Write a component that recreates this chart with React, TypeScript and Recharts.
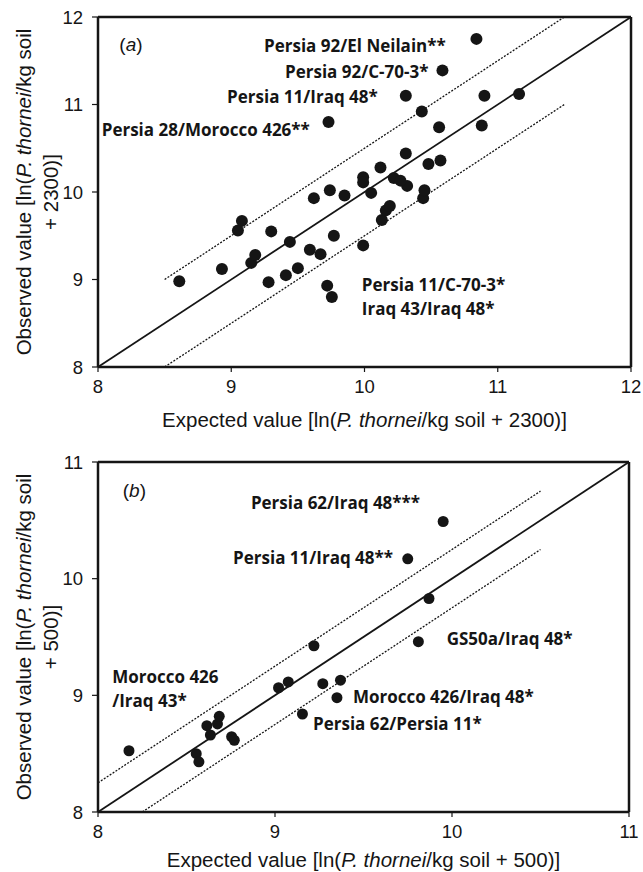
import React from 'react';
import { ScatterChart, Scatter, XAxis, YAxis, ReferenceLine, Label } from 'recharts';

// ---------- Panel (a) data ----------
const topPoints = [
  { x: 8.61, y: 8.98 }, { x: 8.93, y: 9.12 }, { x: 9.05, y: 9.56 }, { x: 9.08, y: 9.67 },
  { x: 9.15, y: 9.19 }, { x: 9.18, y: 9.28 }, { x: 9.3, y: 9.55 }, { x: 9.28, y: 8.97 },
  { x: 9.44, y: 9.43 }, { x: 9.41, y: 9.05 }, { x: 9.5, y: 9.13 }, { x: 9.59, y: 9.34 },
  { x: 9.62, y: 9.93 }, { x: 9.67, y: 9.29 }, { x: 9.74, y: 10.02 }, { x: 9.85, y: 9.96 },
  { x: 9.77, y: 9.5 }, { x: 9.72, y: 8.93 }, { x: 9.755, y: 8.8 }, { x: 9.99, y: 9.39 },
  { x: 10.13, y: 9.68 }, { x: 10.16, y: 9.79 }, { x: 10.19, y: 9.84 }, { x: 10.44, y: 9.93 },
  { x: 10.45, y: 10.02 }, { x: 10.32, y: 10.07 }, { x: 10.84, y: 11.75 }, { x: 10.585, y: 11.39 },
  { x: 10.31, y: 11.1 }, { x: 10.9, y: 11.1 }, { x: 11.16, y: 11.12 }, { x: 10.43, y: 10.92 },
  { x: 10.56, y: 10.74 }, { x: 10.88, y: 10.76 }, { x: 10.31, y: 10.44 }, { x: 10.12, y: 10.28 },
  { x: 10.48, y: 10.32 }, { x: 10.57, y: 10.36 }, { x: 9.99, y: 10.17 }, { x: 9.99, y: 10.11 },
  { x: 10.22, y: 10.16 }, { x: 10.27, y: 10.13 }, { x: 10.05, y: 9.99 }, { x: 9.73, y: 10.8 },
];
const topTicks = [8, 9, 10, 11, 12];
const topIdentity = [{ x: 8, y: 8 }, { x: 12, y: 12 }];
const topUpper = [{ x: 8.5, y: 9 }, { x: 11.5, y: 12 }];
const topLower = [{ x: 8.5, y: 8 }, { x: 11.5, y: 11 }];
const topNotes = [
  { text: 'Persia 92/El Neilain**', x: 10.61, y: 11.67, anchor: 'end' },
  { text: 'Persia 92/C-70-3*', x: 10.48, y: 11.38, anchor: 'end' },
  { text: 'Persia 11/Iraq 48*', x: 10.1, y: 11.09, anchor: 'end' },
  { text: 'Persia 28/Morocco 426**', x: 9.59, y: 10.71, anchor: 'end' },
  { text: 'Persia 11/C-70-3*', x: 9.98, y: 8.94, anchor: 'start' },
  { text: 'Iraq 43/Iraq 48*', x: 9.98, y: 8.67, anchor: 'start' },
];
const topLetter = [{ letter: 'a', x: 8.16, y: 11.69 }];

// ---------- Panel (b) data ----------
const bottomPoints = [
  { x: 8.175, y: 8.525 }, { x: 8.555, y: 8.5 }, { x: 8.57, y: 8.43 }, { x: 8.615, y: 8.74 },
  { x: 8.635, y: 8.66 }, { x: 8.675, y: 8.755 }, { x: 8.685, y: 8.82 }, { x: 8.755, y: 8.645 },
  { x: 8.77, y: 8.615 }, { x: 9.02, y: 9.065 }, { x: 9.075, y: 9.115 }, { x: 9.22, y: 9.425 },
  { x: 9.27, y: 9.1 }, { x: 9.37, y: 9.13 }, { x: 9.35, y: 8.98 }, { x: 9.155, y: 8.84 },
  { x: 9.81, y: 9.46 }, { x: 9.87, y: 9.83 }, { x: 9.75, y: 10.17 }, { x: 9.95, y: 10.49 },
];
const bottomTicks = [8, 9, 10, 11];
const bottomIdentity = [{ x: 8, y: 8 }, { x: 11, y: 11 }];
const bottomUpper = [{ x: 8, y: 8.25 }, { x: 10.5, y: 10.75 }];
const bottomLower = [{ x: 8.25, y: 8 }, { x: 10.5, y: 10.25 }];
const bottomNotes = [
  { text: 'Persia 62/Iraq 48***', x: 9.82, y: 10.65, anchor: 'end' },
  { text: 'Persia 11/Iraq 48**', x: 9.667, y: 10.18, anchor: 'end' },
  { text: 'GS50a/Iraq 48*', x: 9.97, y: 9.49, anchor: 'start' },
  { text: 'Morocco 426/Iraq 48*', x: 9.44, y: 8.99, anchor: 'start' },
  { text: 'Persia 62/Persia 11*', x: 9.215, y: 8.76, anchor: 'start' },
  { text: 'Morocco 426', x: 8.08, y: 9.16, anchor: 'start' },
  { text: '/Iraq 43*', x: 8.08, y: 8.96, anchor: 'start' },
];
const bottomLetter = [{ letter: 'b', x: 8.14, y: 10.76 }];

const AXIS_FONT = '"Liberation Sans", Arial, Helvetica, sans-serif';
const NOTE_FONT = '"Open Sans", Lato, sans-serif';
const INK = '#151515';

function makeDot(r: number) {
  return (props: any) => <circle cx={props.cx} cy={props.cy} r={r} fill={INK} />;
}

function Note(props: any) {
  const p = props.payload || props;
  return (
    <text x={props.cx} y={props.cy} textAnchor={p.anchor} dominantBaseline="central"
      fontFamily={NOTE_FONT} fontWeight={700} fontSize={17} fill={INK}>
      {p.text}
    </text>
  );
}

function Letter(props: any) {
  const p = props.payload || props;
  return (
    <text x={props.cx} y={props.cy} textAnchor="start" dominantBaseline="central"
      fontFamily={AXIS_FONT} fontSize={19} fill={INK}>
      (<tspan fontStyle="italic">{p.letter}</tspan>)
    </text>
  );
}

function XTitle({ viewBox, suffix, dy }: any) {
  const vb = viewBox || { x: 0, y: 0, width: 0 };
  return (
    <text x={vb.x + vb.width / 2} y={vb.y + dy} textAnchor="middle"
      fontFamily={AXIS_FONT} fontSize={20.5} fill={INK}>
      Expected value [ln(<tspan fontStyle="italic">P. thornei</tspan>/kg soil + {suffix})]
    </text>
  );
}

function YTitle({ viewBox, suffix }: any) {
  const vb = viewBox || { x: 0, y: 0, width: 0, height: 0 };
  const right = vb.x + vb.width;
  const cy = vb.y + vb.height / 2;
  const x1 = right - 75;
  const x2 = right - 48;
  return (
    <g fontFamily={AXIS_FONT} fontSize={20.5} fill={INK}>
      <text x={x1} y={cy} textAnchor="middle" dominantBaseline="central" transform={`rotate(-90 ${x1} ${cy})`}>
        Observed value [ln(<tspan fontStyle="italic">P. thornei</tspan>/kg soil
      </text>
      <text x={x2} y={cy} textAnchor="middle" dominantBaseline="central" transform={`rotate(-90 ${x2} ${cy})`}>
        + {suffix})]
      </text>
    </g>
  );
}

function Panel({ width, height, margin, ticks, points, identity, upper, lower, notes, letter, suffix, xAxisHeight, r, titleDy }: any) {
  const lo = ticks[0];
  const hi = ticks[ticks.length - 1];
  return (
    <ScatterChart width={width} height={height} margin={margin}>
      <XAxis type="number" dataKey="x" domain={[lo, hi]} ticks={ticks} allowDataOverflow interval={0}
        axisLine={{ stroke: INK, strokeWidth: 2.5 }} tickLine={{ stroke: INK, strokeWidth: 1.2 }}
        tickSize={5} tickMargin={8} height={xAxisHeight}
        tick={{ fill: INK, fontSize: 18.5, fontFamily: AXIS_FONT }}
        label={<Label content={(p: any) => <XTitle viewBox={p.viewBox} suffix={suffix} dy={titleDy} />} />} />
      <YAxis type="number" dataKey="y" domain={[lo, hi]} ticks={ticks} allowDataOverflow interval={0}
        axisLine={{ stroke: INK, strokeWidth: 2.5 }} tickLine={{ stroke: INK, strokeWidth: 1.2 }}
        tickSize={6} tickMargin={9} width={60}
        tick={{ fill: INK, fontSize: 18.5, fontFamily: AXIS_FONT }}
        label={<Label content={(p: any) => <YTitle viewBox={p.viewBox} suffix={suffix} />} />} />
      <ReferenceLine y={hi} stroke={INK} strokeWidth={2.5} ifOverflow="visible" />
      <ReferenceLine x={hi} stroke={INK} strokeWidth={2.5} ifOverflow="visible" />
      <ReferenceLine segment={identity} stroke={INK} strokeWidth={1.8} ifOverflow="visible" />
      <ReferenceLine segment={upper} stroke={INK} strokeWidth={1.3} strokeDasharray="2 1.5" ifOverflow="visible" />
      <ReferenceLine segment={lower} stroke={INK} strokeWidth={1.3} strokeDasharray="2 1.5" ifOverflow="visible" />
      <Scatter data={points} isAnimationActive={false} shape={makeDot(r)} />
      <Scatter data={notes} isAnimationActive={false} shape={Note} />
      <Scatter data={letter} isAnimationActive={false} shape={Letter} />
    </ScatterChart>
  );
}

export default function App() {
  return (
    <div style={{ position: 'absolute', left: 0, top: 0, width: 643, height: 872, background: '#fff' }}>
      <Panel width={643} height={445} margin={{ top: 17, right: 12, bottom: 0, left: 38 }}
        ticks={topTicks} points={topPoints} identity={topIdentity} upper={topUpper} lower={topLower}
        notes={topNotes} letter={topLetter} suffix="2300" xAxisHeight={78} r={6} titleDy={60} />
      <Panel width={643} height={427} margin={{ top: 17, right: 14, bottom: 0, left: 38 }}
        ticks={bottomTicks} points={bottomPoints} identity={bottomIdentity} upper={bottomUpper} lower={bottomLower}
        notes={bottomNotes} letter={bottomLetter} suffix="500" xAxisHeight={60} r={5.5} titleDy={55} />
    </div>
  );
}
